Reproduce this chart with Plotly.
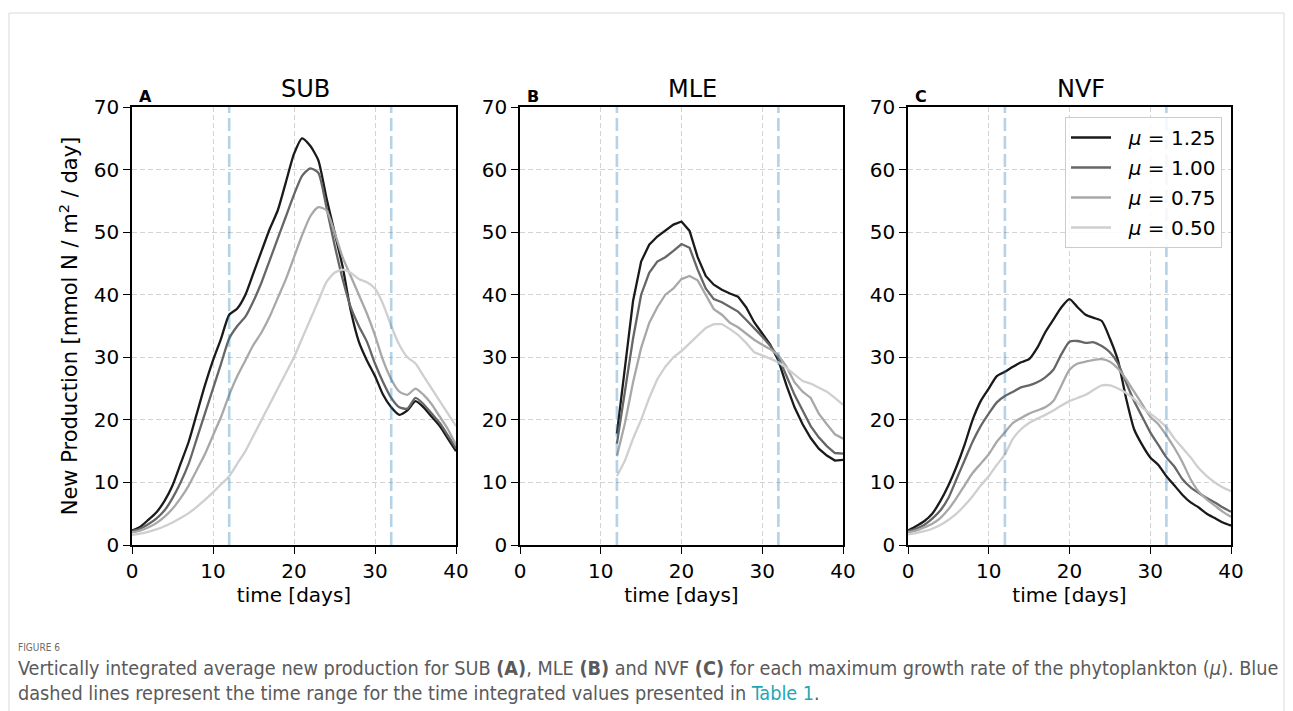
import plotly.graph_objects as go

# ---------------- data ----------------
days = list(range(0, 41))
days_mle = list(range(12, 41))
mu_labels = ["1.25", "1.00", "0.75", "0.50"]
window_days = [12, 32]
panel_titles = ["SUB", "MLE", "NVF"]
panel_letters = ["A", "B", "C"]

sub_125 = [2.3, 2.9, 4.0, 5.2, 7.0, 9.5, 13.0, 16.5, 21.0, 25.5, 29.5, 33.0, 36.8, 37.8, 40.0, 43.5,
           47.0, 50.5, 53.5, 58.0, 62.5, 65.0, 63.8, 61.5, 55.5, 50.0, 44.5, 37.5, 32.5, 29.5, 27.0,
           24.0, 22.0, 20.8, 21.5, 23.0, 22.0, 20.5, 19.0, 17.0, 15.0]
sub_100 = [2.2, 2.6, 3.3, 4.2, 5.5, 7.5, 10.0, 13.0, 17.0, 21.0, 25.0, 29.0, 33.0, 35.0, 36.5, 39.0,
           42.0, 45.5, 49.0, 52.5, 56.0, 59.0, 60.2, 59.5, 54.0, 48.0, 42.5, 38.0, 35.0, 32.5, 29.0,
           26.0, 23.5, 22.0, 21.8, 23.5, 22.5, 21.0, 19.5, 17.5, 15.5]
sub_075 = [2.0, 2.3, 2.8, 3.5, 4.5, 5.8, 7.5, 9.5, 12.0, 14.5, 17.5, 20.5, 24.0, 27.0, 29.5, 32.0,
           34.0, 36.5, 39.5, 42.5, 46.0, 49.5, 52.5, 54.0, 53.5, 50.0, 46.0, 43.0, 40.0, 37.0, 33.5,
           29.5, 26.5, 24.5, 24.0, 25.0, 24.0, 22.5, 20.5, 18.5, 16.0]
sub_050 = [1.6, 1.8, 2.1, 2.5, 3.0, 3.6, 4.3, 5.1, 6.1, 7.2, 8.4, 9.7, 11.0, 13.0, 15.0, 17.5,
           20.0, 22.5, 25.0, 27.5, 30.0, 33.0, 36.0, 39.0, 42.0, 43.5, 44.0, 43.5, 42.5, 42.0, 41.0,
           38.5, 35.0, 32.0, 30.0, 29.0, 27.0, 25.0, 23.0, 21.0, 19.0]

mle_125 = [17.8, 28.0, 39.0, 45.3, 48.0, 49.3, 50.2, 51.2, 51.7, 50.2, 46.0, 43.0, 41.6, 40.8, 40.2,
           39.7, 38.0, 35.6, 33.8, 32.0, 29.5, 25.5, 22.0, 19.3, 17.1, 15.4, 14.3, 13.5, 13.6]
mle_100 = [16.2, 25.0, 33.0, 40.0, 43.5, 45.3, 46.0, 47.0, 48.1, 47.5, 44.0, 41.0, 39.3, 38.8, 38.0,
           37.3, 36.0, 34.7, 33.3, 31.8, 30.0, 27.0, 24.0, 21.5, 19.0, 17.2, 15.8, 14.7, 14.6]
mle_075 = [14.2, 19.5, 26.0, 31.5, 35.5, 38.0, 40.0, 41.0, 42.5, 43.0, 42.3, 40.0, 37.7, 36.8, 35.5,
           34.8, 33.8, 32.8, 32.0, 31.3, 30.3, 28.5, 26.0, 24.5, 23.5, 21.0, 19.3, 17.7, 17.0]
mle_050 = [11.0, 13.5, 17.0, 20.0, 23.5, 26.5, 28.5, 30.0, 31.0, 32.2, 33.5, 34.7, 35.3, 35.3, 34.5,
           33.6, 32.3, 30.8, 30.3, 29.8, 29.2, 28.3, 27.3, 26.2, 25.8, 25.2, 24.5, 23.5, 22.4]

nvf_125 = [2.3, 3.0, 3.8, 5.0, 7.0, 9.5, 12.5, 16.0, 20.0, 23.0, 25.0, 27.0, 27.7, 28.5, 29.2, 29.7,
           31.5, 34.0, 36.0, 38.0, 39.3, 38.0, 36.8, 36.3, 35.8, 33.0, 29.5, 23.5, 18.5, 16.0, 14.0,
           12.8, 11.0, 9.5, 8.0, 6.8, 6.0, 5.0, 4.3, 3.6, 3.1]
nvf_100 = [2.2, 2.6, 3.2, 4.2, 5.5, 7.5, 10.5, 13.5, 16.5, 19.0, 21.0, 22.8, 23.8, 24.5, 25.2, 25.5,
           26.0, 26.8, 28.0, 30.5, 32.5, 32.6, 32.3, 32.4, 31.8, 30.8, 29.0, 26.0, 23.0, 20.5, 18.0,
           16.0, 14.0, 12.5, 10.5, 9.2, 8.3, 7.5, 6.8, 6.0, 5.3]
nvf_075 = [2.0, 2.3, 2.8, 3.4, 4.3, 5.7, 7.5, 9.5, 11.5, 13.0, 14.5, 16.5, 18.0, 19.5, 20.3, 21.0,
           21.5, 22.0, 23.0, 25.5, 28.0, 29.0, 29.3, 29.6, 29.7, 29.3, 28.2, 26.5, 24.5, 22.5, 20.5,
           19.3, 17.5, 15.5, 13.2, 10.5, 8.5, 7.3, 6.3, 5.3, 4.5]
nvf_050 = [1.7, 1.9, 2.2, 2.6, 3.2, 4.0, 5.0, 6.3, 7.8, 9.5, 11.0, 12.8, 14.5, 17.0, 18.5, 19.5,
           20.2, 20.8, 21.5, 22.3, 23.0, 23.5, 24.0, 24.8, 25.5, 25.5, 25.0, 24.3, 23.3, 22.0, 21.0,
           20.0, 18.8, 17.0, 15.5, 14.0, 12.3, 11.0, 10.0, 9.2, 8.6]

# ---------------- styling ----------------
W, H = 1293, 711
line_colors = ["#1a1a1a", "#666666", "#a8a8a8", "#cfcfcf"]
FONT = "DejaVu Sans"
FS = 20

panels = [
    (days, [sub_125, sub_100, sub_075, sub_050], (132, 456), "spline"),
    (days_mle, [mle_125, mle_100, mle_075, mle_050], (520, 843), "linear"),
    (days, [nvf_125, nvf_100, nvf_075, nvf_050], (908, 1231), "spline"),
]
y_top, y_bot = 107, 545


def px_x(p):
    return p / W


def px_y(p):
    return 1 - p / H


fig = go.Figure()
layout = dict(
    template="none",
    width=W, height=H, autosize=False,
    margin=dict(l=0, r=0, t=0, b=0, autoexpand=False),
    paper_bgcolor="white", plot_bgcolor="white",
    font=dict(family=FONT, size=FS, color="black"),
    showlegend=True,
)
shapes = []
annotations = []

for i, (xs, series, (x0, x1), shape) in enumerate(panels):
    n = "" if i == 0 else str(i + 1)
    xa, ya = "x" + n, "y" + n
    for k, ys in enumerate(series):
        fig.add_trace(go.Scatter(
            x=xs, y=ys, mode="lines", xaxis=xa, yaxis=ya,
            line=dict(color=line_colors[k], width=2.3, shape=shape, smoothing=0.6),
            name="  <i>μ</i> = " + mu_labels[k],
            legendgroup="g" + str(k),
            showlegend=(i == 2),
        ))
    common = dict(
        showline=True, mirror=True, linecolor="black", linewidth=1.5,
        ticks="outside", ticklen=7, tickwidth=1.4, tickcolor="black",
        showgrid=True, gridcolor="#d3d3d3", gridwidth=1, griddash="5px,3px",
        zeroline=False, automargin=False,
        tickfont=dict(family=FONT, size=FS, color="black"),
    )
    layout["xaxis" + n] = dict(
        common, domain=[px_x(x0), px_x(x1)], anchor=ya, range=[0, 40],
        tick0=0, dtick=10,
        title=dict(text="time [days]", font=dict(family=FONT, size=FS), standoff=4),
    )
    yax = dict(common, domain=[px_y(y_bot), px_y(y_top)], anchor=xa, range=[0, 70],
               tick0=0, dtick=10)
    if i == 0:
        yax["title"] = dict(text="New Production [mmol N / m<sup>2</sup> / day]",
                            font=dict(family=FONT, size=21), standoff=10)
    layout["yaxis" + n] = yax
    for d in window_days:
        shapes.append(dict(type="line", xref=xa, yref=ya + " domain", x0=d, x1=d, y0=0, y1=1,
                           line=dict(color="rgba(31,119,180,0.33)", width=2.6, dash="13px,5px"),
                           layer="above"))
    annotations.append(dict(text=panel_titles[i], xref="paper", yref="paper",
                            x=px_x((x0 + x1) / 2 + 11), y=px_y(89), xanchor="center", yanchor="middle",
                            showarrow=False, font=dict(family=FONT, size=24, color="black")))
    annotations.append(dict(text="<b>" + panel_letters[i] + "</b>", xref="paper", yref="paper",
                            x=px_x(x0 + 5), y=px_y(96), xanchor="left", yanchor="middle",
                            showarrow=False, font=dict(family=FONT, size=16, color="black")))

# figure frame (left, top, right edges; open at the bottom, kept inside the figure)
fx0, fx1, fy1 = px_x(9), px_x(1284), px_y(13)
shapes.append(dict(type="path", xref="paper", yref="paper",
                   path=f"M {fx0},0 L {fx0},{fy1} L {fx1},{fy1} L {fx1},0",
                   line=dict(color="#d9d9d9", width=1), layer="below"))

cap_font = "Liberation Sans Narrow, DejaVu Sans Condensed, sans-serif"
annotations.append(dict(text="FIGURE 6", xref="paper", yref="paper", x=px_x(16), y=px_y(647),
                        xanchor="left", yanchor="middle", showarrow=False,
                        font=dict(family=cap_font, size=10, color="#6b6b6b")))
annotations.append(dict(
    text=("Vertically integrated average new production for SUB <b>(A)</b>, MLE <b>(B)</b> and NVF <b>(C)</b> "
          "for each maximum growth rate of the phytoplankton (<i>μ</i>). Blue"),
    xref="paper", yref="paper", x=px_x(16), y=px_y(668), xanchor="left", yanchor="middle",
    showarrow=False, font=dict(family=cap_font, size=19.7, color="#5a5a5a")))
annotations.append(dict(
    text=("dashed lines represent the time range for the time integrated values presented in "
          "<span style='color:#1fa7b8'>Table 1</span>."),
    xref="paper", yref="paper", x=px_x(16), y=px_y(693), xanchor="left", yanchor="middle",
    showarrow=False, font=dict(family=cap_font, size=19.7, color="#5a5a5a")))

layout["shapes"] = shapes
layout["annotations"] = annotations
layout["legend"] = dict(
    x=px_x(1065), y=px_y(117), xanchor="left", yanchor="top",
    bgcolor="rgba(255,255,255,0.85)", bordercolor="#cccccc", borderwidth=1,
    font=dict(family=FONT, size=FS, color="black"),
    tracegroupgap=1, itemwidth=40,
)
fig.update_layout(**layout)
fig.write_html("out.html")
